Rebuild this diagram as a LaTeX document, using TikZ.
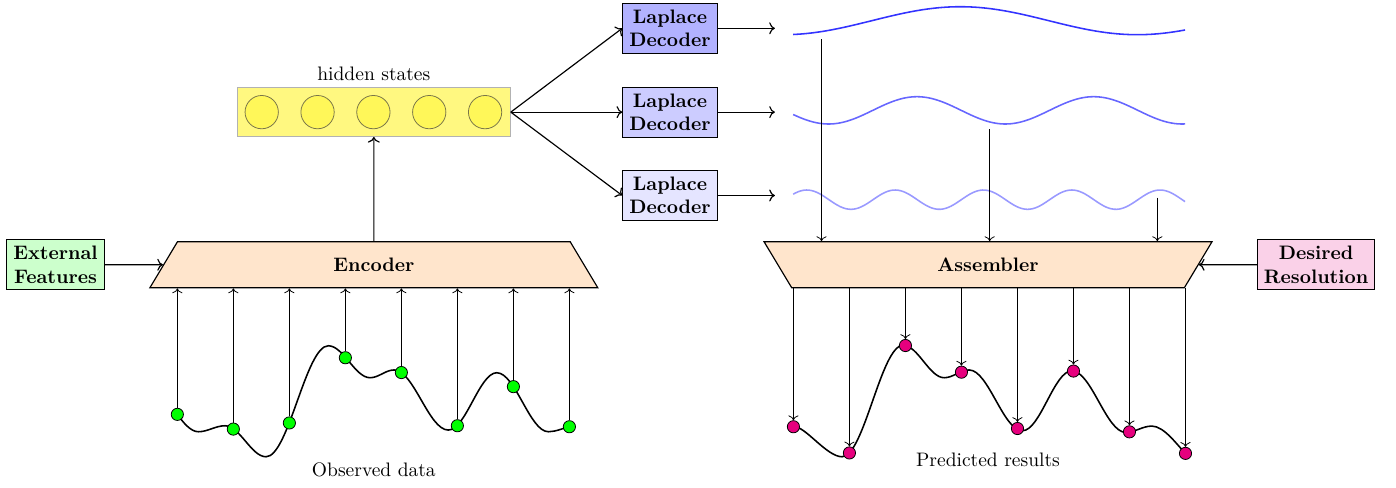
\documentclass[tikz,border=0pt]{standalone}
\usetikzlibrary{positioning,arrows.meta,shapes.geometric}
\usepackage{xcolor}
\definecolor{rubine}{RGB}{230,0,126}

\begin{document}
\begin{tikzpicture}[
  box/.style={draw,semithick,align=center,font=\bfseries},
  dec/.style={box,fill=blue!#1},
  trap/.style={trapezium,trapezium stretches body=true,trapezium angle=44,draw,semithick,fill=orange!20,minimum width=8.07cm,minimum height=0.83cm,font=\bfseries},
  hcirc/.style={circle,draw=yellow!40!black,fill=yellow!65,minimum size=0.6cm,inner sep=0pt},
  obsdot/.style={circle,draw,fill=green,inner sep=0pt,minimum size=0.22cm},
  preddot/.style={circle,draw,fill=rubine,inner sep=0pt,minimum size=0.22cm},
  ar/.style={->,semithick},
  tk/.style={->,thin},
  wavepl/.style={thick,domain=14.29:21.35,samples=150,smooth},
  datacurve/.style={thick}
]
\useasboundingbox (0,0) rectangle (25.15,-8.775);
\node[box,fill=green!20] (extf) at (1.00,-4.77) {External\\Features};
\node[trap] (enc) at (6.735,-4.77) {Encoder};
\node[draw=gray!60,fill=yellow!50,minimum width=4.92cm,minimum height=0.88cm] (hid) at (6.735,-2.02) {};
\node (hidlbl) [above=0pt of hid] {hidden states};
\foreach \i in {1,...,5} \node[hcirc] (h\i) at ({4.715+(\i-1)*1.006},-2.02) {};
\node[dec=30] (dec1) at (12.07,-0.51) {Laplace\\Decoder};
\node[dec=20] (dec2) at (12.07,-2.02) {Laplace\\Decoder};
\node[dec=10] (dec3) at (12.07,-3.522) {Laplace\\Decoder};
\coordinate (w1) at (13.96,-0.51);
\coordinate (w2) at (13.96,-2.02);
\coordinate (w3) at (13.96,-3.522);
\node[trap,shape border rotate=180] (asm) at (17.80,-4.77) {Assembler};
\node[box,fill=rubine!18] (res) at (23.71,-4.77) {Desired\\Resolution};
\draw[wavepl,blue!80] plot (\x,{-0.373+0.252*cos(360*(\x-17.30)/6.38)});
\draw[wavepl,blue!60] plot (\x,{-1.988+0.246*cos(360*(\x-16.52)/3.184)});
\draw[wavepl,blue!40] plot (\x,{-3.597+0.174*cos(360*(\x-14.535)/1.591)});
\coordinate (v1) at (14.80,-0.71);
\coordinate (v2) at (17.83,-2.33);
\coordinate (v3) at (20.85,-3.56);
\draw[datacurve] (3.195,-7.465) .. controls +(0.10,-0.14) and +(-0.14,0) .. (3.573,-7.778)
  .. controls +(0.173,0) and +(-0.173,0) .. (4.054,-7.670)
  .. controls +(0.266,0) and +(-0.266,0) .. (4.793,-8.229)
  .. controls +(0.404,0) and +(-0.404,0) .. (5.915,-6.229)
  .. controls +(0.271,0) and +(-0.271,0) .. (6.667,-6.805)
  .. controls +(0.156,0) and +(-0.156,0) .. (7.100,-6.665)
  .. controls +(0.352,0) and +(-0.352,0) .. (8.077,-7.748)
  .. controls +(0.314,0) and +(-0.314,0) .. (8.950,-6.715)
  .. controls +(0.334,0) and +(-0.334,0) .. (9.879,-7.778)
  .. controls +(0.14,0) and +(-0.10,-0.02) .. (10.258,-7.688);
\draw[datacurve] (14.294,-7.688) .. controls +(0.20,0.03) and +(-0.28,0) .. (15.170,-8.229)
  .. controls +(0.396,0) and +(-0.396,0) .. (16.270,-6.220)
  .. controls +(0.266,0) and +(-0.266,0) .. (17.010,-6.805)
  .. controls +(0.162,0) and +(-0.162,0) .. (17.460,-6.665)
  .. controls +(0.346,0) and +(-0.346,0) .. (18.420,-7.760)
  .. controls +(0.320,0) and +(-0.320,0) .. (19.310,-6.680)
  .. controls +(0.349,0) and +(-0.349,0) .. (20.280,-7.790)
  .. controls +(0.170,0) and +(-0.170,0) .. (20.751,-7.676)
  .. controls +(0.22,0) and +(-0.15,0.15) .. (21.357,-8.168);
\foreach \i/\x/\y in {1/3.195/-7.465,2/4.204/-7.730,3/5.213/-7.620,4/6.222/-6.445,5/7.231/-6.712,6/8.240/-7.670,7/9.249/-6.966,8/10.258/-7.688}
  \node[obsdot] (o\i) at (\x,\y) {};
\foreach \i/\x/\y in {1/14.294/-7.688,2/15.303/-8.160,3/16.312/-6.225,4/17.321/-6.705,5/18.330/-7.720,6/19.339/-6.685,7/20.348/-7.780,8/21.357/-8.168}
  \node[preddot] (p\i) at (\x,\y) {};
\node (obslbl) at (6.735,-8.47) {Observed data};
\node (predlbl) at (17.80,-8.29) {Predicted results};
\draw[ar] (extf) -- (enc);
\draw[ar] (enc) -- (hid);
\draw[ar] (hid.east) -- (dec1.west);
\draw[ar] (hid.east) -- (dec2.west);
\draw[ar] (hid.east) -- (dec3.west);
\draw[ar] (dec1) -- (w1);
\draw[ar] (dec2) -- (w2);
\draw[ar] (dec3) -- (w3);
\draw[ar] (res) -- (asm);
\foreach \i in {1,...,8} \draw[tk] (o\i) -- (o\i |- enc.south);
\foreach \i in {1,...,8} \draw[tk] (p\i |- asm.south) -- (p\i);
\foreach \i in {1,2,3} \draw[tk] (v\i) -- (v\i |- asm.north);
\end{tikzpicture}
\end{document}
